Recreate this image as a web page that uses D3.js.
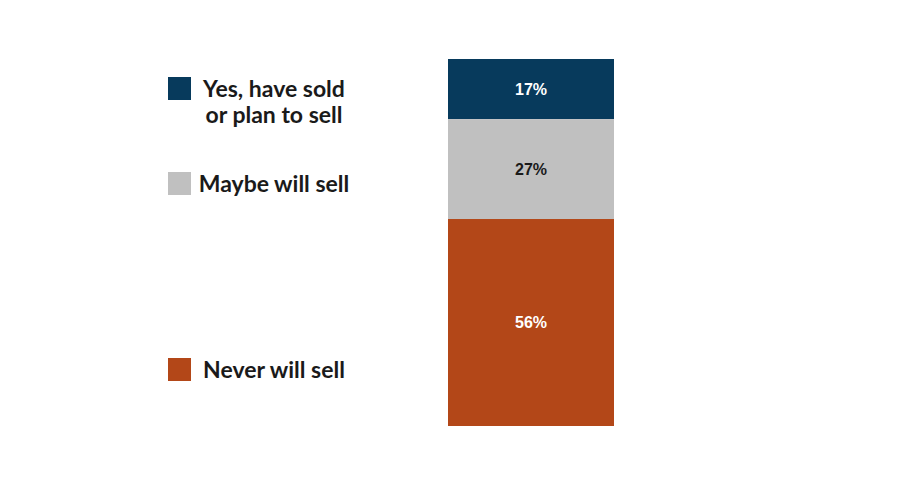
<!DOCTYPE html>
<html>
<head>
<meta charset="utf-8">
<script src="https://cdn.jsdelivr.net/npm/d3@7"></script>
<style>
  body { margin: 0; background: #fff; }
</style>
</head>
<body>
<svg id="chart"></svg>
<script>
// Share of respondents, top to bottom of the bar
const categories = ["Yes, have sold or plan to sell", "Maybe will sell", "Never will sell"];
const values = [16.4, 27.2, 56.4];
const valueLabels = ["17%", "27%", "56%"];
const legendLines = [["Yes, have sold", "or plan to sell"], ["Maybe will sell"], ["Never will sell"]];
const colors = ["#073a5c", "#c0c0c0", "#b34718"];
const labelColors = ["#ffffff", "#1a1a1a", "#ffffff"];

const width = 916, height = 486;

const svg = d3.select("#chart")
  .attr("width", width)
  .attr("height", height);

// Stack the segments
let acc = 0;
const segments = values.map((v, i) => {
  const d = { i, y0: acc, y1: acc + v };
  acc += v;
  return d;
});

const x = d3.scaleBand()
  .domain(["all"])
  .range([448, 614])
  .padding(0);

const y = d3.scaleLinear()
  .domain([0, d3.sum(values)])
  .range([59, 426]);

svg.selectAll("rect.seg")
  .data(segments)
  .enter()
  .append("rect")
  .attr("class", "seg")
  .attr("x", x("all"))
  .attr("width", x.bandwidth())
  .attr("y", d => y(d.y0))
  .attr("height", d => y(d.y1) - y(d.y0))
  .attr("fill", d => colors[d.i]);

svg.selectAll("text.val")
  .data(segments)
  .enter()
  .append("text")
  .attr("class", "val")
  .attr("x", x("all") + x.bandwidth() / 2)
  .attr("y", d => (y(d.y0) + y(d.y1)) / 2)
  .attr("dy", "0.36em")
  .attr("text-anchor", "middle")
  .attr("font-family", "Liberation Sans, Arial, sans-serif")
  .attr("font-weight", "bold")
  .attr("font-size", "16px")
  .attr("fill", d => labelColors[d.i])
  .text(d => valueLabels[d.i]);

// Legend
const legendY = [77, 172, 358];
const legend = svg.append("g");

categories.forEach((c, i) => {
  const g = legend.append("g")
    .attr("transform", `translate(168, ${legendY[i]})`);

  g.append("rect")
    .attr("width", 23)
    .attr("height", 23)
    .attr("fill", colors[i]);

  const t = g.append("text")
    .attr("text-anchor", "middle")
    .attr("font-family", "Lato, sans-serif")
    .attr("font-weight", "bold")
    .attr("font-size", "23px")
    .attr("fill", "#1a1a1a");

  legendLines[i].forEach((line, j) => {
    t.append("tspan")
      .attr("x", 106)
      .attr("y", 20 + j * 26)
      .text(line);
  });
});
</script>
</body>
</html>
